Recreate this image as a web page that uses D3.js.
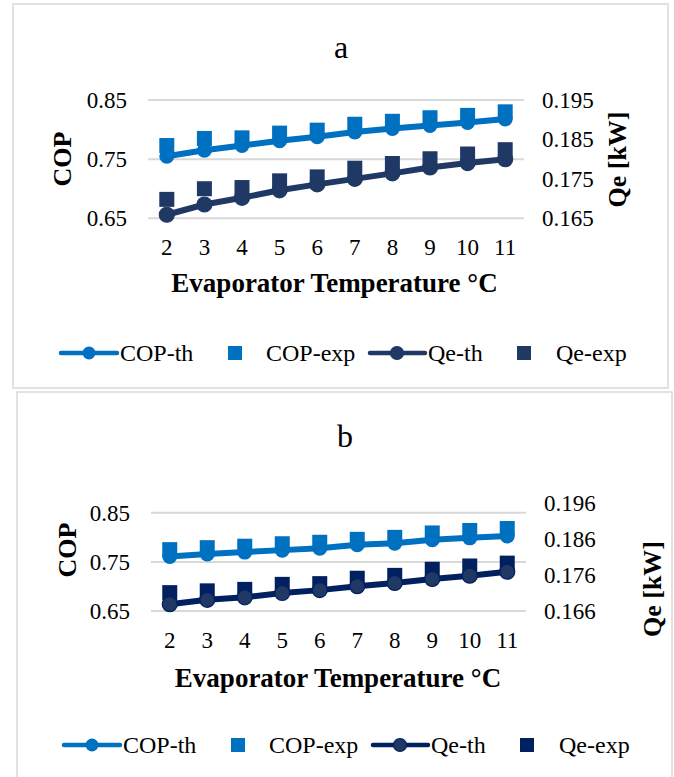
<!DOCTYPE html>
<html>
<head>
<meta charset="utf-8">
<script src="https://cdn.jsdelivr.net/npm/d3@7/dist/d3.min.js"></script>
<style>
  html, body { margin: 0; padding: 0; background: #ffffff; }
  svg { display: block; }
  text { font-family: "Liberation Serif", "Times New Roman", "DejaVu Serif", serif; fill: #000; }
</style>
</head>
<body>
<script>
// ---------- data ----------
const temps = [2, 3, 4, 5, 6, 7, 8, 9, 10, 11];
const seriesNames = ["COP-th", "COP-exp", "Qe-th", "Qe-exp"];

// chart a
const copThA  = [0.755, 0.765, 0.773, 0.781, 0.788, 0.796, 0.802, 0.807, 0.812, 0.818];
const copExpA = [0.773, 0.785, 0.786, 0.794, 0.799, 0.809, 0.814, 0.820, 0.824, 0.830];
const qeThA   = [0.1659, 0.1685, 0.1702, 0.1721, 0.1736, 0.1750, 0.1764, 0.1779, 0.1790, 0.1800];
const qeExpA  = [0.1698, 0.1725, 0.1728, 0.1745, 0.1755, 0.1777, 0.1789, 0.1801, 0.1813, 0.1824];
const copTicksA = [0.65, 0.75, 0.85];
const qeTicksA  = [0.165, 0.175, 0.185, 0.195];

// chart b
const copThB  = [0.761, 0.766, 0.770, 0.774, 0.778, 0.785, 0.788, 0.795, 0.799, 0.803];
const copExpB = [0.775, 0.779, 0.782, 0.787, 0.790, 0.796, 0.800, 0.809, 0.814, 0.818];
const qeThB   = [0.1679, 0.1691, 0.1698, 0.1710, 0.1718, 0.1729, 0.1738, 0.1749, 0.1758, 0.1769];
const qeExpB  = [0.1711, 0.1716, 0.1720, 0.1734, 0.1736, 0.1751, 0.1759, 0.1776, 0.1785, 0.1793];
const copTicksB = [0.65, 0.75, 0.85];
const qeTicksB  = [0.166, 0.176, 0.186, 0.196];

// ---------- layout ----------
const W = 674, H = 777;
const svg = d3.select("body").append("svg").attr("width", W).attr("height", H);

const charts = [
  {
    title: "a", frame: [13, 4, 655, 384], titlePos: [341, 58],
    plot: { x0: 148, x1: 524, y0: 100, y1: 218.3 },
    copDomain: [0.65, 0.85], qeDomain: [0.165, 0.195],
    copTicks: copTicksA, qeTicks: qeTicksA, qeFmt: ".3f",
    copTh: copThA, copExp: copExpA, qeTh: qeThA, qeExp: qeExpA,
    copLabel: [62.5, 159], qeLabel: [617, 159.5], xTitle: [334.5, 283],
    legendY: 353, legendDx: 0,
    cop: "#0070c0", qeLine: "#1f3864", qeCircle: "#1f3864", qeCircleStroke: "#1f3864", qeSquare: "#1f3864"
  },
  {
    title: "b", frame: [17, 392, 655, 400], titlePos: [345, 447],
    plot: { x0: 151, x1: 526, y0: 503, y1: 611 },
    copDomain: [0.65, 0.87], qeDomain: [0.166, 0.196],
    copTicks: copTicksB, qeTicks: qeTicksB, qeFmt: ".3f",
    copTh: copThB, copExp: copExpB, qeTh: qeThB, qeExp: qeExpB,
    copLabel: [67, 550], qeLabel: [652, 589], xTitle: [338, 678],
    legendY: 745, legendDx: 3,
    cop: "#0070c0", qeLine: "#002060", qeCircle: "#203864", qeCircleStroke: "#002060", qeSquare: "#002060"
  }
];

const SQ = 15, R = 7.5, LW = 6, LLW = 4.5;

charts.forEach(c => {
  const g = svg.append("g");
  // frame
  g.append("rect").attr("x", c.frame[0]).attr("y", c.frame[1])
    .attr("width", c.frame[2]).attr("height", c.frame[3])
    .attr("fill", "#fff").attr("stroke", "#d9d9d9").attr("stroke-width", 1.5);

  const x = d3.scaleBand().domain(temps).range([c.plot.x0, c.plot.x1]);
  const cx = d => x(d) + x.bandwidth() / 2;
  const yL = d3.scaleLinear().domain(c.copDomain).range([c.plot.y1, c.plot.y0]);
  const yR = d3.scaleLinear().domain(c.qeDomain).range([c.plot.y1, c.plot.y0]);

  // title
  g.append("text").attr("x", c.titlePos[0]).attr("y", c.titlePos[1])
    .attr("text-anchor", "middle").style("font-size", "32px").text(c.title);

  // gridlines
  g.append("g").selectAll("line").data(c.copTicks).join("line")
    .attr("x1", c.plot.x0).attr("x2", c.plot.x1)
    .attr("y1", d => yL(d)).attr("y2", d => yL(d))
    .attr("stroke", "#d9d9d9").attr("stroke-width", 2);

  // axes
  const la = g.append("g").attr("transform", `translate(${c.plot.x0},0)`)
    .call(d3.axisLeft(yL).tickValues(c.copTicks).tickSize(0).tickPadding(21).tickFormat(d3.format(".2f")));
  const ra = g.append("g").attr("transform", `translate(${c.plot.x1},0)`)
    .call(d3.axisRight(yR).tickValues(c.qeTicks).tickSize(0).tickPadding(18).tickFormat(d3.format(c.qeFmt)));
  const ba = g.append("g").attr("transform", `translate(0,${c.plot.y1})`)
    .call(d3.axisBottom(x).tickSize(0).tickPadding(20.5));
  [la, ra, ba].forEach(a => {
    a.select(".domain").remove();
    a.attr("font-family", null).attr("font-size", null);
    a.selectAll("text").style("font-size", "23px").attr("fill", "#000");
  });

  // axis titles
  g.append("text").attr("transform", `translate(${c.copLabel[0]},${c.copLabel[1]}) rotate(-90)`)
    .attr("text-anchor", "middle").attr("dominant-baseline", "central")
    .style("font-size", "26px").style("font-weight", "bold").text("COP");
  g.append("text").attr("transform", `translate(${c.qeLabel[0]},${c.qeLabel[1]}) rotate(-90)`)
    .attr("text-anchor", "middle").attr("dominant-baseline", "central")
    .style("font-size", "26px").style("font-weight", "bold").text("Qe [kW]");
  g.append("text").attr("x", c.xTitle[0]).attr("y", c.xTitle[1])
    .attr("text-anchor", "middle").attr("dominant-baseline", "central")
    .style("font-size", "27px").style("font-weight", "bold").text("Evaporator Temperature \u00B0C");

  // exp squares
  g.append("g").selectAll("rect").data(temps).join("rect")
    .attr("x", (d) => cx(d) - SQ / 2).attr("y", (d, i) => yL(c.copExp[i]) - SQ / 2)
    .attr("width", SQ).attr("height", SQ).attr("fill", c.cop);
  g.append("g").selectAll("rect").data(temps).join("rect")
    .attr("x", (d) => cx(d) - SQ / 2).attr("y", (d, i) => yR(c.qeExp[i]) - SQ / 2)
    .attr("width", SQ).attr("height", SQ).attr("fill", c.qeSquare);

  // th lines + circles
  const lineL = d3.line().x(d => cx(d[0])).y(d => yL(d[1]));
  const lineR = d3.line().x(d => cx(d[0])).y(d => yR(d[1]));
  g.append("path").datum(temps.map((t, i) => [t, c.copTh[i]])).attr("d", lineL)
    .attr("fill", "none").attr("stroke", c.cop).attr("stroke-width", LW).attr("stroke-linejoin", "round").attr("stroke-linecap", "round");
  g.append("g").selectAll("circle").data(temps).join("circle")
    .attr("cx", d => cx(d)).attr("cy", (d, i) => yL(c.copTh[i])).attr("r", R).attr("fill", c.cop);
  g.append("path").datum(temps.map((t, i) => [t, c.qeTh[i]])).attr("d", lineR)
    .attr("fill", "none").attr("stroke", c.qeLine).attr("stroke-width", LW).attr("stroke-linejoin", "round").attr("stroke-linecap", "round");
  g.append("g").selectAll("circle").data(temps).join("circle")
    .attr("cx", d => cx(d)).attr("cy", (d, i) => yR(c.qeTh[i])).attr("r", R)
    .attr("fill", c.qeCircle).attr("stroke", c.qeCircleStroke).attr("stroke-width", 1.2);

  // legend
  const ly = c.legendY, dx = c.legendDx;
  const leg = g.append("g").attr("transform", `translate(${dx},0)`);
  const fs = "24px";
  // COP-th
  leg.append("line").attr("x1", 61).attr("x2", 117).attr("y1", ly).attr("y2", ly)
    .attr("stroke", c.cop).attr("stroke-width", LLW).attr("stroke-linecap", "round");
  leg.append("circle").attr("cx", 89).attr("cy", ly).attr("r", 6.5).attr("fill", c.cop);
  leg.append("text").attr("x", 120).attr("y", ly).attr("dominant-baseline", "central").style("font-size", fs).text(seriesNames[0]);
  // COP-exp
  leg.append("rect").attr("x", 235 - 7).attr("y", ly - 7).attr("width", 14).attr("height", 14).attr("fill", c.cop);
  leg.append("text").attr("x", 266).attr("y", ly).attr("dominant-baseline", "central").style("font-size", fs).text(seriesNames[1]);
  // Qe-th
  leg.append("line").attr("x1", 370).attr("x2", 425).attr("y1", ly).attr("y2", ly)
    .attr("stroke", c.qeLine).attr("stroke-width", LLW).attr("stroke-linecap", "round");
  leg.append("circle").attr("cx", 397).attr("cy", ly).attr("r", 6.5)
    .attr("fill", c.qeCircle).attr("stroke", c.qeCircleStroke).attr("stroke-width", 1.2);
  leg.append("text").attr("x", 428).attr("y", ly).attr("dominant-baseline", "central").style("font-size", fs).text(seriesNames[2]);
  // Qe-exp
  leg.append("rect").attr("x", 524 - 7).attr("y", ly - 7).attr("width", 14).attr("height", 14).attr("fill", c.qeSquare);
  leg.append("text").attr("x", 556).attr("y", ly).attr("dominant-baseline", "central").style("font-size", fs).text(seriesNames[3]);
});
</script>
</body>
</html>
